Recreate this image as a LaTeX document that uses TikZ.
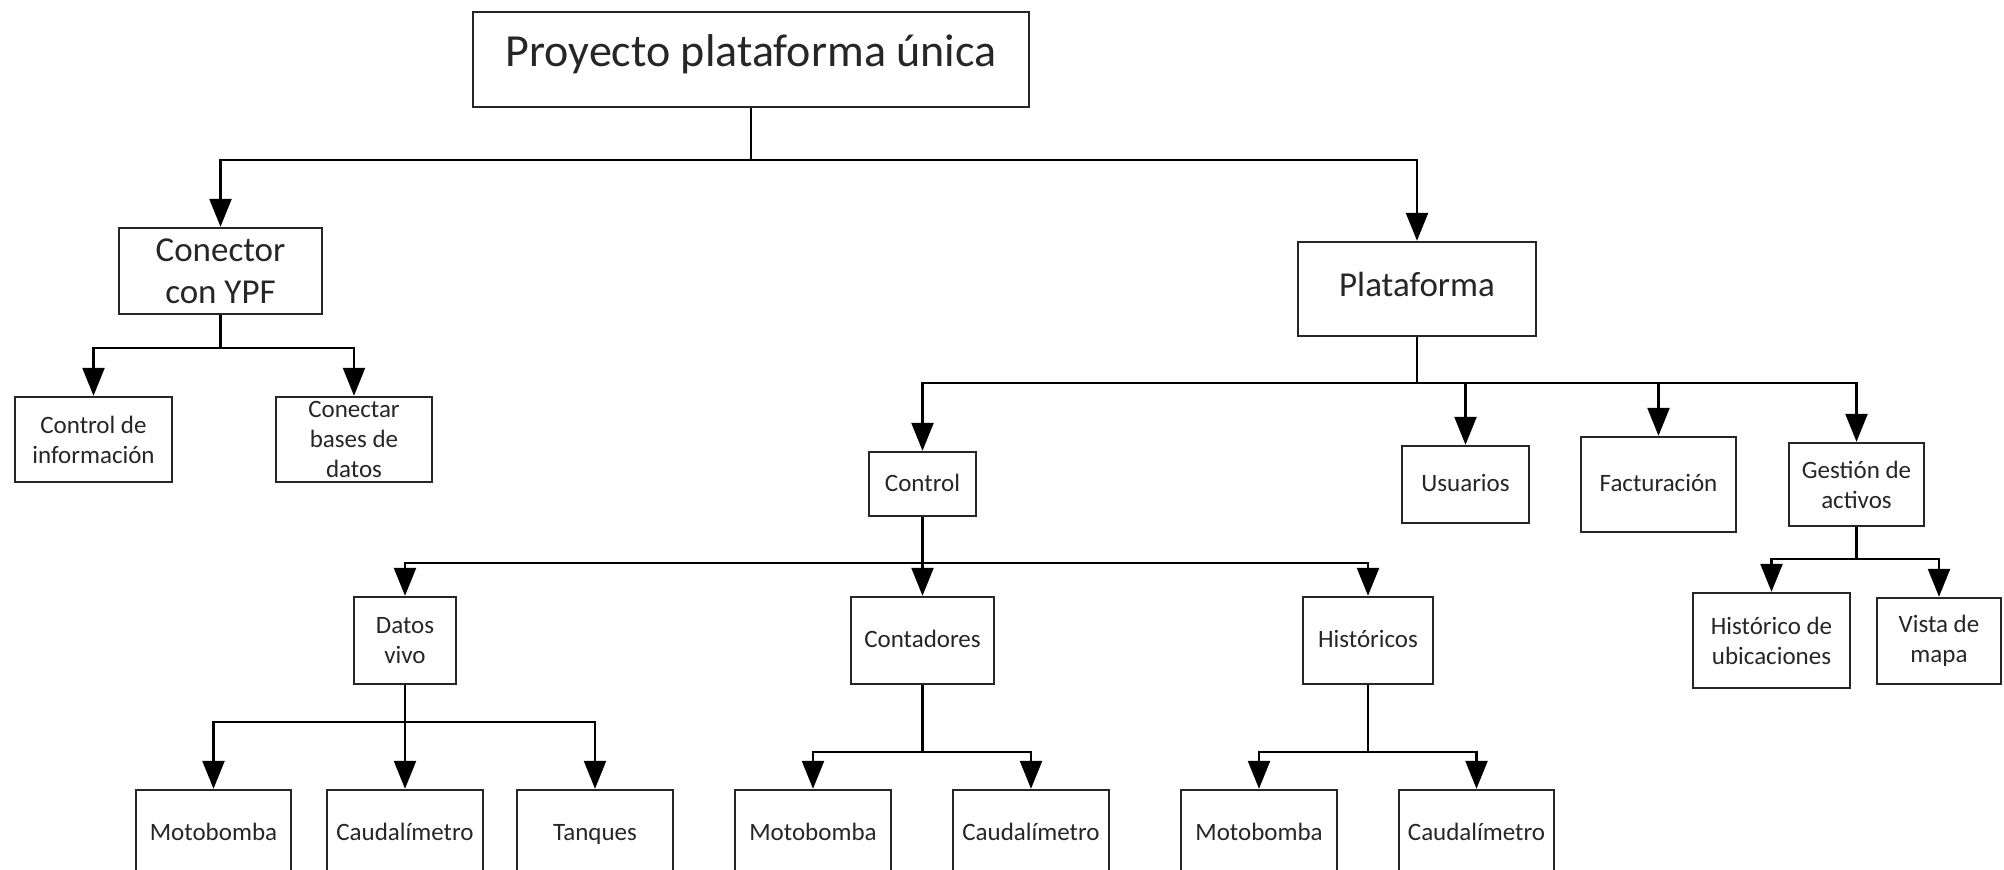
\documentclass[tikz,border=0pt]{standalone}
\usepackage{fontspec}
\setmainfont{Carlito}
\usetikzlibrary{arrows.meta}
\begin{document}
\begin{tikzpicture}[x=0.5pt,y=-0.5pt,
  box/.style={draw=black!85,line width=1.2pt,inner sep=0pt,align=center,text=black!85},
  one/.style={text height=0.78em,text depth=0.08em},
  big/.style={font=\fontsize{23}{27}\selectfont},
  mid/.style={font=\fontsize{17.5}{21}\selectfont},
  small/.style={font=\fontsize{12.5}{15}\selectfont},
  conn/.style={line width=1.2pt,line join=miter,-{Triangle[length=14pt,width=11pt]}}]
\clip (0,0) rectangle (2004,869);
\fill[white] (0,0) rectangle (2004,869);
% nodes
\node[box,big,one,minimum width=278pt,minimum height=47.5pt] (top) at (751,59.5) {Proyecto plataforma única};
\node[box,mid,minimum width=101.5pt,minimum height=43pt] (conector) at (220.5,271) {Conector\\con YPF};
\node[box,mid,one,minimum width=119pt,minimum height=47pt] (plataforma) at (1417,289) {Plataforma};
\node[box,small,minimum width=78.5pt,minimum height=42.5pt] (ctrlinfo) at (93.5,439.5) {Control de\\información};
\node[box,small,minimum width=78pt,minimum height=42.5pt] (conectar) at (354,439.5) {Conectar\\bases de\\datos};
\node[box,small,one,minimum width=53.5pt,minimum height=32pt] (control) at (922.5,484) {Control};
\node[box,small,one,minimum width=63.5pt,minimum height=38.5pt] (usuarios) at (1465.5,484.5) {Usuarios};
\node[box,small,one,minimum width=77.5pt,minimum height=47.5pt] (factur) at (1658.5,484.5) {Facturación};
\node[box,small,minimum width=67.5pt,minimum height=41.5pt] (gestion) at (1856.5,484.5) {Gestión de\\activos};
\node[box,small,minimum width=78.5pt,minimum height=47.5pt] (histub) at (1771.5,640.5) {Histórico de\\ubicaciones};
\node[box,small,minimum width=62pt,minimum height=43pt] (vista) at (1939,641) {Vista de\\mapa};
\node[box,small,minimum width=51pt,minimum height=43.5pt] (datosvivo) at (405,640.5) {Datos\\vivo};
\node[box,small,one,minimum width=71.5pt,minimum height=43.5pt] (contadores) at (922.5,640.5) {Contadores};
\node[box,small,one,minimum width=65pt,minimum height=43.5pt] (historicos) at (1368,640.5) {Históricos};
\node[box,small,one,minimum width=77.5pt,minimum height=43.5pt] (mb1) at (213.5,833.5) {Motobomba};
\node[box,small,one,minimum width=78pt,minimum height=43.5pt] (cau1) at (405,833.5) {Caudalímetro};
\node[box,small,one,minimum width=78pt,minimum height=43.5pt] (tanq) at (595,833.5) {Tanques};
\node[box,small,one,minimum width=78pt,minimum height=43.5pt] (mb2) at (813,833.5) {Motobomba};
\node[box,small,one,minimum width=78pt,minimum height=43.5pt] (cau2) at (1031,833.5) {Caudalímetro};
\node[box,small,one,minimum width=78pt,minimum height=43.5pt] (mb3) at (1259,833.5) {Motobomba};
\node[box,small,one,minimum width=77.5pt,minimum height=43.5pt] (cau3) at (1476.5,833.5) {Caudalímetro};
% bus levels
\coordinate (b0) at (0,160);
\coordinate (b1) at (0,348);
\coordinate (b2) at (0,383);
\coordinate (b3) at (0,563);
\coordinate (b4) at (0,559);
\coordinate (b5) at (0,722);
\coordinate (b6) at (0,752);
% connectors
\foreach \c in {conector,plataforma}
  \draw[conn] (top.south) -- (top.south |- b0) -| (\c.north);
\foreach \c in {ctrlinfo,conectar}
  \draw[conn] (conector.south) -- (conector.south |- b1) -| (\c.north);
\foreach \c in {control,usuarios,factur,gestion}
  \draw[conn] (plataforma.south) -- (plataforma.south |- b2) -| (\c.north);
\foreach \c in {datosvivo,contadores,historicos}
  \draw[conn] (control.south) -- (control.south |- b3) -| (\c.north);
\foreach \c in {histub,vista}
  \draw[conn] (gestion.south) -- (gestion.south |- b4) -| (\c.north);
\foreach \c in {mb1,cau1,tanq}
  \draw[conn] (datosvivo.south) -- (datosvivo.south |- b5) -| (\c.north);
\foreach \c in {mb2,cau2}
  \draw[conn] (contadores.south) -- (contadores.south |- b6) -| (\c.north);
\foreach \c in {mb3,cau3}
  \draw[conn] (historicos.south) -- (historicos.south |- b6) -| (\c.north);
\end{tikzpicture}
\end{document}
